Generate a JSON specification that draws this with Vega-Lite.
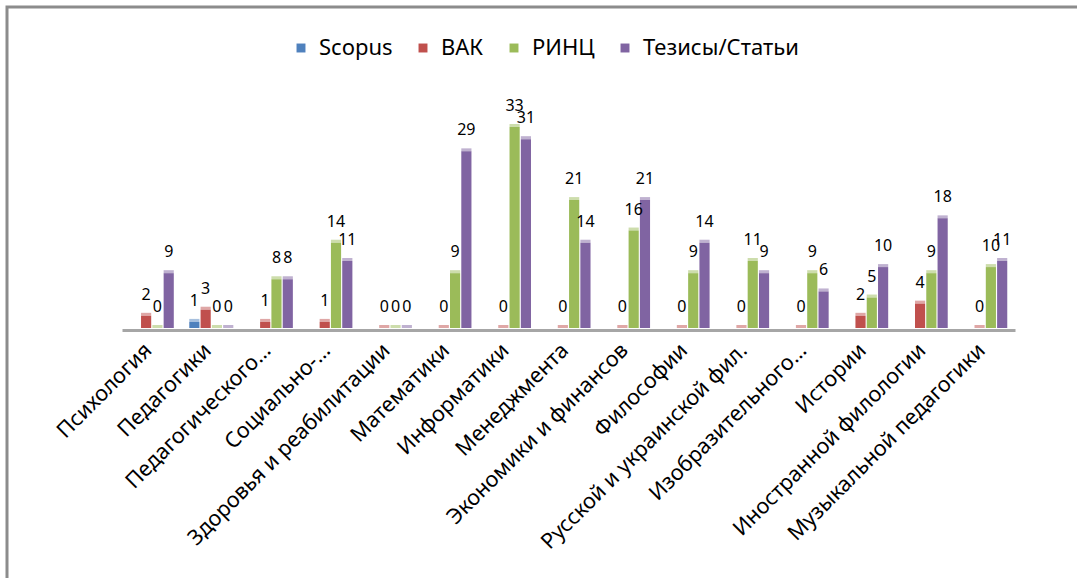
{
  "$schema": "https://vega.github.io/schema/vega-lite/v6.json",
  "width": 1076,
  "height": 577,
  "autosize": {"type": "none"},
  "padding": {"left": 7, "top": 7, "right": -6, "bottom": -6},
  "background": "white",
  "config": {"view": {"stroke": "#8c8c8c", "strokeWidth": 3}, "font": "Noto Sans"},
  "data": {"values": [
    {"cat": "Психология", "series": "ВАК", "value": 2},
    {"cat": "Психология", "series": "РИНЦ", "value": 0},
    {"cat": "Психология", "series": "Тезисы/Статьи", "value": 9},
    {"cat": "Педагогики", "series": "Scopus", "value": 1},
    {"cat": "Педагогики", "series": "ВАК", "value": 3},
    {"cat": "Педагогики", "series": "РИНЦ", "value": 0},
    {"cat": "Педагогики", "series": "Тезисы/Статьи", "value": 0},
    {"cat": "Педагогического…", "series": "ВАК", "value": 1},
    {"cat": "Педагогического…", "series": "РИНЦ", "value": 8},
    {"cat": "Педагогического…", "series": "Тезисы/Статьи", "value": 8},
    {"cat": "Социально-…", "series": "ВАК", "value": 1},
    {"cat": "Социально-…", "series": "РИНЦ", "value": 14},
    {"cat": "Социально-…", "series": "Тезисы/Статьи", "value": 11},
    {"cat": "Здоровья и реабилитации", "series": "ВАК", "value": 0},
    {"cat": "Здоровья и реабилитации", "series": "РИНЦ", "value": 0},
    {"cat": "Здоровья и реабилитации", "series": "Тезисы/Статьи", "value": 0},
    {"cat": "Математики", "series": "ВАК", "value": 0},
    {"cat": "Математики", "series": "РИНЦ", "value": 9},
    {"cat": "Математики", "series": "Тезисы/Статьи", "value": 29},
    {"cat": "Информатики", "series": "ВАК", "value": 0},
    {"cat": "Информатики", "series": "РИНЦ", "value": 33},
    {"cat": "Информатики", "series": "Тезисы/Статьи", "value": 31},
    {"cat": "Менеджмента", "series": "ВАК", "value": 0},
    {"cat": "Менеджмента", "series": "РИНЦ", "value": 21},
    {"cat": "Менеджмента", "series": "Тезисы/Статьи", "value": 14},
    {"cat": "Экономики и финансов", "series": "ВАК", "value": 0},
    {"cat": "Экономики и финансов", "series": "РИНЦ", "value": 16},
    {"cat": "Экономики и финансов", "series": "Тезисы/Статьи", "value": 21},
    {"cat": "Философии", "series": "ВАК", "value": 0},
    {"cat": "Философии", "series": "РИНЦ", "value": 9},
    {"cat": "Философии", "series": "Тезисы/Статьи", "value": 14},
    {"cat": "Русской и украинской фил.", "series": "ВАК", "value": 0},
    {"cat": "Русской и украинской фил.", "series": "РИНЦ", "value": 11},
    {"cat": "Русской и украинской фил.", "series": "Тезисы/Статьи", "value": 9},
    {"cat": "Изобразительного…", "series": "ВАК", "value": 0},
    {"cat": "Изобразительного…", "series": "РИНЦ", "value": 9},
    {"cat": "Изобразительного…", "series": "Тезисы/Статьи", "value": 6},
    {"cat": "Истории", "series": "ВАК", "value": 2},
    {"cat": "Истории", "series": "РИНЦ", "value": 5},
    {"cat": "Истории", "series": "Тезисы/Статьи", "value": 10},
    {"cat": "Иностранной филологии", "series": "ВАК", "value": 4},
    {"cat": "Иностранной филологии", "series": "РИНЦ", "value": 9},
    {"cat": "Иностранной филологии", "series": "Тезисы/Статьи", "value": 18},
    {"cat": "Музыкальной педагогики", "series": "ВАК", "value": 0},
    {"cat": "Музыкальной педагогики", "series": "РИНЦ", "value": 10},
    {"cat": "Музыкальной педагогики", "series": "Тезисы/Статьи", "value": 11}
  ]},
  "encoding": {
    "x": {
      "field": "cat", "type": "nominal", "sort": null,
      "scale": {"range": [115, 1008], "paddingInner": 0.26, "paddingOuter": 0.13},
      "axis": {"title": null, "orient": "bottom", "offset": -254, "labelAngle": -45, "labelAlign": "right", "labelBaseline": "middle", "labelFontSize": 21.5, "labelColor": "black", "labelPadding": 17, "labelOffset": -3, "ticks": false, "domainColor": "#a6a6a6", "domainWidth": 3, "labelLimit": 400, "labelFont": "Noto Sans"}
    },
    "xOffset": {"field": "series", "type": "nominal", "scale": {"domain": ["Scopus", "ВАК", "РИНЦ", "Тезисы/Статьи"], "paddingInner": 0.1, "paddingOuter": 0}},
    "y": {"field": "value", "type": "quantitative", "scale": {"domain": [0, 33], "range": [321, 120], "nice": false, "zero": true}, "axis": null}
  },
  "layer": [
    {
      "mark": {"type": "bar"},
      "encoding": {
        "color": {
          "field": "series", "type": "nominal",
          "scale": {"domain": ["Scopus", "ВАК", "РИНЦ", "Тезисы/Статьи"], "range": ["#4F81BD", "#C0504D", "#9BBB59", "#8064A2"]},
          "legend": {"orient": "none", "legendX": 283, "legendY": 30, "direction": "horizontal", "title": null, "symbolType": "square", "symbolSize": 80, "labelFontSize": 22, "labelColor": "black", "columnPadding": 19, "labelOffset": 7, "symbolStrokeWidth": 0, "labelFont": "Noto Sans"}
        }
      }
    },
    {
      "mark": {"type": "bar", "yOffset": -3, "opacity": 0.5},
      "encoding": {
        "y2": {"field": "value"},
        "color": {"field": "series", "type": "nominal", "legend": null}
      }
    },
    {
      "mark": {"type": "text", "dy": -21, "fontSize": 16, "baseline": "middle", "color": "black"},
      "encoding": {"text": {"field": "value", "type": "quantitative"}}
    }
  ]
}
